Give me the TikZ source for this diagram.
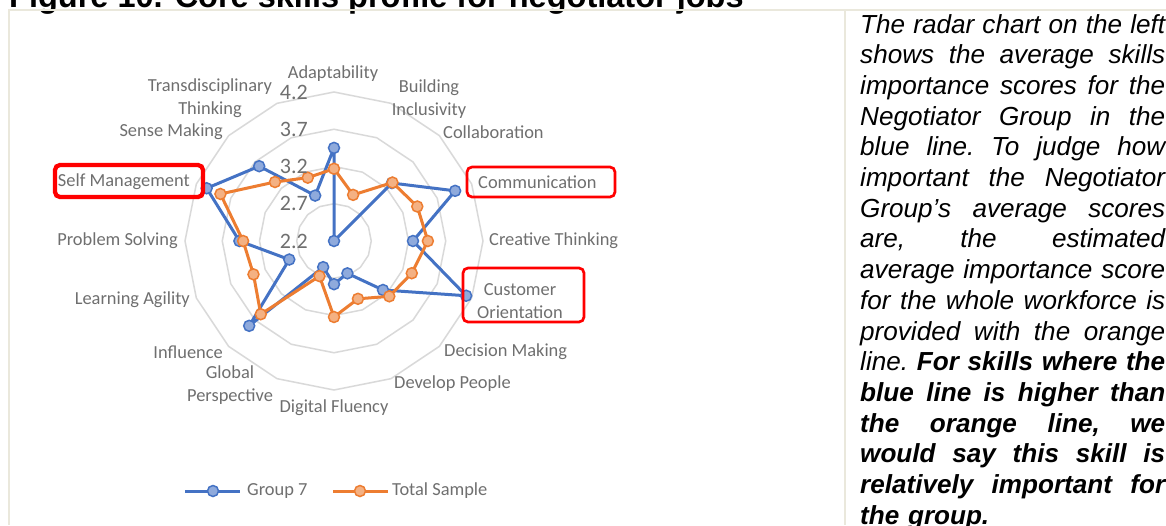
\documentclass[tikz,border=0pt]{standalone}
\usepackage{fontspec}
\setmainfont{Carlito}
\newfontfamily\notefont{Liberation Sans}
\usetikzlibrary{positioning}
\definecolor{grpblue}{HTML}{4472C4}
\definecolor{grpfill}{HTML}{8FAADC}
\definecolor{totorange}{HTML}{ED7D31}
\definecolor{totfill}{HTML}{F4B183}
\definecolor{ringgray}{HTML}{D9D9D9}
\definecolor{labelgray}{HTML}{6F6F6F}
\definecolor{cellbeige}{HTML}{EAE8DC}
\newcommand{\jl}[1]{\hbox to 305pt{\frenchspacing\spaceskip=\fontdimen2\font plus 1fil\relax #1}}

\begin{document}
\begin{tikzpicture}[x=1pt,y=-1pt,
  catlabel/.style={text=labelgray,font=\fontsize{18.4}{22.7}\selectfont,align=center,inner sep=0pt},
  scalelabel/.style={text=labelgray,font=\fontsize{22}{26}\selectfont,inner sep=0pt,anchor=east},
  ringline/.style={ringgray,line width=1.5pt},
  grpline/.style={grpblue,line width=3pt,line join=round},
  totline/.style={totorange,line width=3pt,line join=round},
  grpdot/.style={circle,draw=grpblue,fill=grpfill,line width=1.5pt,minimum size=11pt,inner sep=0pt},
  totdot/.style={circle,draw=totorange,fill=totfill,line width=1.5pt,minimum size=11pt,inner sep=0pt},
  flagbox/.style={red,line width=2.7pt,rounded corners=5pt},
  cellrule/.style={cellbeige,line width=2pt}]
\useasboundingbox (0,0) rectangle (1166,525);
\clip (0,0) rectangle (1166,525);
\fill[white] (0,0) rectangle (1166,525);

\node[anchor=base west,inner sep=0pt,font={\notefont\fontsize{32.5}{39}\selectfont\bfseries}] (title) at (9,7) {Figure 10. Core skills profile for negotiator jobs};

\draw[cellrule] (9,525) -- (9,10) -- (1166,10);
\draw[cellrule] (845,10) -- (845,525);

\begin{scope}[shift={(334,241)}]
\foreach \r in {1,...,4}
  \draw[ringline] (90:{\r*37.25pt}) \foreach \k in {1,...,15}{ -- ({90-22.5*\k}:{\r*37.25pt})} -- cycle;

\foreach \v [count=\i] in {3.45,2.2,3.3,3.96,3.26,4.12,3.13,2.67,2.78,2.58,3.81,2.85,3.47,4.05,3.62,2.86}
  \coordinate (g\i) at ({90-22.5*(\i-1)}:{(\v-2.2)*74.5pt});
\foreach \v [count=\i] in {3.17,2.87,3.31,3.41,3.46,3.33,3.25,3.04,3.22,2.71,3.59,3.37,3.42,3.85,3.32,3.12}
  \coordinate (t\i) at ({90-22.5*(\i-1)}:{(\v-2.2)*74.5pt});

\draw[grpline] (g1) \foreach \i in {2,...,16}{ -- (g\i)} -- cycle;
\foreach \i in {1,...,16} \node[grpdot] (gd\i) at (g\i) {};
\draw[totline] (t1) \foreach \i in {2,...,16}{ -- (t\i)} -- cycle;
\foreach \i in {1,...,16} \node[totdot] (td\i) at (t\i) {};
\end{scope}

\foreach \t [count=\j from 0] in {2.2,2.7,3.2,3.7,4.2}
  \node[scalelabel] (s\j) at (308,{241-37.25*\j}) {\t};

\node[catlabel] (adapt) at (333,74) {Adaptability};
\node[catlabel] (build) at (429,99) {Building\\Inclusivity};
\node[catlabel,anchor=west] (collab) at (443,132) {Collaboration};
\node[catlabel,anchor=west] (comm) at (478,182) {Communication};
\node[catlabel,anchor=west] (creat) at (489,241) {Creative Thinking};
\node[catlabel] (cust) at (520,301) {Customer\\Orientation};
\node[catlabel,anchor=west] (decis) at (444,352) {Decision Making};
\node[catlabel,anchor=west] (devel) at (394,384) {Develop People};
\node[catlabel] (digit) at (334,408) {Digital Fluency};
\node[catlabel] (glob) at (230,385) {Global\\Perspective};
\node[catlabel,anchor=east] (infl) at (223,352) {Influence};
\node[catlabel,anchor=east] (learn) at (190,300) {Learning Agility};
\node[catlabel,anchor=east] (prob) at (178,241) {Problem Solving};
\node[catlabel,anchor=east] (selfm) at (190,182) {Self Management};
\node[catlabel,anchor=east] (sense) at (223,132) {Sense Making};
\node[catlabel] (trans) at (210,98) {Transdisciplinary\\Thinking};

\draw[flagbox] (467,167) rectangle (615,197);
\draw[flagbox] (463,268) rectangle (584,322);
\draw[flagbox,line width=4.3pt] (55,165) rectangle (203,197);

\coordinate (ga) at (185,491);
\coordinate (gb) at (240,491);
\draw[grpline] (ga) -- (gb);
\node[grpdot] (gkey) at (213,491) {};
\node[catlabel,right=7pt of gb] (gtext) {Group 7};
\coordinate (ta) at (333,491);
\coordinate (tb) at (388,491);
\draw[totline] (ta) -- (tb);
\node[totdot] (tkey) at (360,491) {};
\node[catlabel,right=4pt of tb] (ttext) {Total Sample};

\node[anchor=base west,text width=305pt,inner sep=0pt,font={\notefont\fontsize{26.1}{30.7}\selectfont\itshape}] (note) at (860,33) {%
\jl{The radar chart on the left}
\jl{shows the average skills}
\jl{importance scores for the}
\jl{Negotiator Group in the}
\jl{blue line. To judge how}
\jl{important the Negotiator}
\jl{Group’s average scores}
\jl{are, the estimated}
\jl{average importance score}
\jl{for the whole workforce is}
\jl{provided with the orange}
\jl{line. \bfseries For skills where the}
\jl{\bfseries blue line is higher than}
\jl{\bfseries the orange line, we}
\jl{\bfseries would say this skill is}
\jl{\bfseries relatively important for}
\hbox{\bfseries the group.}};
\end{tikzpicture}
\end{document}
